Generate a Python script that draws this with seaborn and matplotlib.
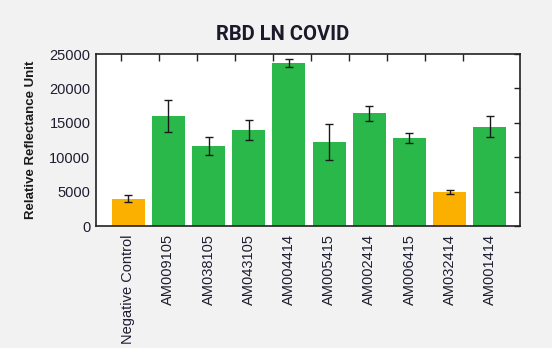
import numpy as np
import pandas as pd
import matplotlib
matplotlib.use("Agg")
import matplotlib.pyplot as plt
import seaborn as sns

samples = ["Negative Control", "AM009105", "AM038105", "AM043105", "AM004414",
           "AM005415", "AM002414", "AM006415", "AM032414", "AM001414"]
signal = [3950, 16000, 11650, 14000, 23700, 12200, 16400, 12800, 4950, 14400]
signal_err = [500, 2300, 1300, 1450, 580, 2570, 1100, 770, 340, 1530]
group = ["control", "test", "test", "test", "test",
         "test", "test", "test", "control", "test"]
y_ticks = [0, 5000, 10000, 15000, 20000, 25000]

GREEN = "#2bb84a"
ORANGE = "#fbb000"
TEXT = "#1e1e32"

sns.set_theme(style="white")
plt.rcParams["font.family"] = ["Liberation Sans", "DejaVu Sans"]

df = pd.DataFrame({"sample": samples, "signal": signal, "group": group})

fig = plt.figure(figsize=(5.52, 3.48), dpi=100, facecolor="#f2f2f2")
ax = fig.add_axes([96 / 552, 1 - 226 / 348, (520 - 96) / 552, (226 - 54) / 348])
ax.set_facecolor("white")

sns.barplot(data=df, x="sample", y="signal", hue="group",
            palette={"control": ORANGE, "test": GREEN},
            dodge=False, width=0.82, legend=False, errorbar=None,
            saturation=1, linewidth=0, ax=ax)
ax.errorbar(np.arange(len(samples)), signal, yerr=signal_err, fmt="none",
            ecolor="#1a1a1a", elinewidth=1.0, capsize=2.6, capthick=1.0,
            zorder=5)

ax.set_xlim(-0.8, 9.75)
ax.set_ylim(0, 25000)
ax.set_yticks(y_ticks)
ax.set_yticklabels([str(v) for v in y_ticks])
ax.set_xlabel("")
ax.set_ylabel("Relative Reflectance Unit", fontsize=9.5, fontweight="bold",
              color="#1a1a1a", labelpad=9)
ax.set_title("RBD LN COVID", fontsize=14.5, fontweight="bold",
             color="#1a1a2a", family=["Roboto", "DejaVu Sans"], pad=10,
             x=0.44)

for s in ax.spines.values():
    s.set_color("#222222")
    s.set_linewidth(1.2)

ax.tick_params(axis="x", direction="in", length=4, width=1, color="#222222",
               labelrotation=90, labelsize=10.5, labelcolor=TEXT, pad=6)
ax.tick_params(axis="y", left=False, right=True, direction="in", length=4,
               width=1, color="#222222", labelsize=10.5, labelcolor=TEXT, pad=4)
ax.xaxis.set_tick_params(which="major", zorder=6)

top = ax.secondary_xaxis("top")
top.set_xticks(np.linspace(-0.17, 8.33, 10))
top.set_xticklabels([])
top.tick_params(direction="in", length=5, width=1, color="#222222")
top.spines["top"].set_visible(False)

fig.savefig("out.png", dpi=100, facecolor=fig.get_facecolor())
